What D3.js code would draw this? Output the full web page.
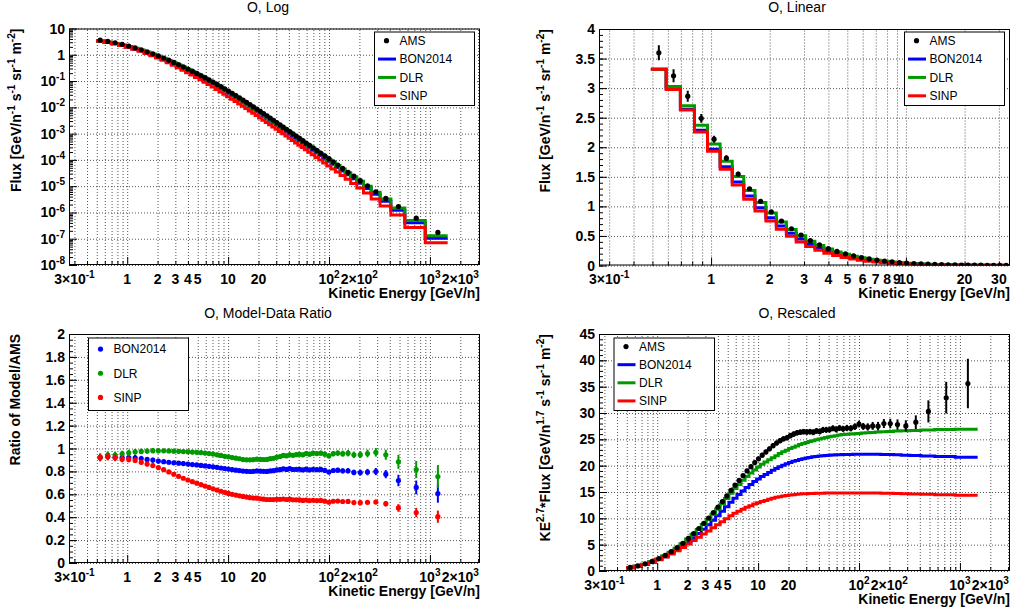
<!DOCTYPE html>
<html>
<head>
<meta charset="utf-8">
<script src="https://cdn.jsdelivr.net/npm/d3@7"></script>
<style>
body { margin: 0; background: #fff; }
text { font-family: "Liberation Sans", Arial, Helvetica, sans-serif; }
</style>
</head>
<body>
<svg width="1013" height="611"></svg>
<script>
// bin edges, kinetic energy per nucleon [GeV/n]
var ekEdges = [0.491, 0.588, 0.696, 0.822, 0.959, 1.113, 1.284, 1.471, 1.680, 1.911,
   2.162, 2.435, 2.734, 3.059, 3.410, 3.791, 4.204, 4.647, 5.140, 5.635,
   6.180, 6.775, 7.421, 8.117, 8.863, 9.660, 10.51, 11.45, 12.45, 13.50,
   14.65, 15.84, 17.14, 18.54, 20.04, 21.64, 23.34, 25.19, 27.13, 29.23,
   31.48, 33.93, 36.53, 39.33, 42.33, 45.58, 49.08, 53.08, 57.08, 61.58,
   66.58, 72.57, 79.07, 86.57, 95.07, 104.6, 115.6, 128.6, 144.6, 164.1,
   188.6, 219.6, 261.6, 320.6, 410.1, 564.1, 899.1, 1499];

var amsScaled = [0.68, 0.97, 1.36, 1.82, 2.35, 2.96, 3.67, 4.43, 5.27, 6.18,
   7.12, 8.07, 9.06, 10.06, 11.09, 12.12, 13.18, 14.25, 15.3, 16.3,
   17.2, 18.1, 19.0, 19.8, 20.6, 21.3, 22.0, 22.6, 23.2, 23.8,
   24.3, 24.75, 25.1, 25.3, 25.7, 26.0, 26.25, 26.35, 26.45, 26.4,
   26.45, 26.35, 26.6, 26.5, 26.8, 26.8, 26.85, 27.1, 26.9, 27.15,
   27.0, 27.15, 27.1, 27.4, 27.9, 27.45, 27.35, 27.55, 27.5, 28.0,
   28.0, 27.8, 27.55, 28.25, 30.3, 32.9, 35.6];
var amsScaledErr = [0.024, 0.033, 0.044, 0.055, 0.066, 0.077, 0.092, 0.106, 0.121, 0.136,
   0.142, 0.161, 0.181, 0.201, 0.222, 0.242, 0.264, 0.285, 0.306, 0.326,
   0.344, 0.362, 0.38, 0.396, 0.412, 0.426, 0.44, 0.452, 0.464, 0.476,
   0.486, 0.495, 0.503, 0.51, 0.516, 0.521, 0.526, 0.529, 0.53, 0.532,
   0.534, 0.56, 0.56, 0.57, 0.57, 0.57, 0.57, 0.57, 0.58, 0.58,
   0.58, 0.6, 0.6, 0.61, 0.64, 0.66, 0.69, 0.75, 0.81, 0.85,
   0.9, 0.98, 1.07, 1.3, 2.1, 3.0, 4.7];
var bonScaled = [0.627, 0.905, 1.256, 1.674, 2.163, 2.721, 3.350, 4.006, 4.736, 5.500,
   6.301, 7.102, 7.928, 8.772, 9.626, 10.47, 11.33, 12.20, 13.04, 13.82,
   14.52, 15.20, 15.87, 16.43, 17.00, 17.47, 17.93, 18.33, 18.72, 19.11,
   19.45, 19.78, 20.08, 20.35, 20.6, 20.82, 21.0, 21.18, 21.33, 21.46,
   21.57, 21.67, 21.75, 21.82, 21.88, 21.93, 21.98, 22.02, 22.05, 22.08,
   22.1, 22.12, 22.14, 22.15, 22.16, 22.17, 22.17, 22.17, 22.16, 22.14,
   22.11, 22.07, 22.0, 21.92, 21.83, 21.72, 21.6];
var dlrScaled = [0.627, 0.915, 1.283, 1.733, 2.262, 2.875, 3.577, 4.329, 5.169, 6.056,
   6.978, 7.901, 8.852, 9.809, 10.79, 11.77, 12.77, 13.78, 14.75, 15.65,
   16.44, 17.23, 17.95, 18.6, 19.2, 19.75, 20.25, 20.7, 21.12, 21.5,
   21.9, 22.3, 22.65, 22.95, 23.25, 23.5, 23.75, 24.0, 24.2, 24.4,
   24.6, 24.75, 24.9, 25.05, 25.2, 25.35, 25.5, 25.6, 25.7, 25.8,
   25.9, 25.95, 26.0, 26.05, 26.1, 26.2, 26.25, 26.3, 26.38, 26.45,
   26.5, 26.58, 26.65, 26.7, 26.78, 26.85, 26.9];
var sinpScaled = [0.627, 0.900, 1.249, 1.651, 2.126, 2.653, 3.229, 3.828, 4.483, 5.148,
   5.803, 6.416, 7.022, 7.615, 8.207, 8.787, 9.358, 9.932, 10.47, 10.95,
   11.35, 11.73, 12.10, 12.41, 12.71, 12.95, 13.20, 13.40, 13.62, 13.83,
   14.0, 14.12, 14.23, 14.33, 14.42, 14.5, 14.56, 14.61, 14.65, 14.68,
   14.71, 14.73, 14.75, 14.77, 14.78, 14.79, 14.8, 14.8, 14.8, 14.8,
   14.8, 14.8, 14.8, 14.8, 14.8, 14.8, 14.8, 14.8, 14.79, 14.77,
   14.75, 14.72, 14.68, 14.63, 14.57, 14.5, 14.4];

var modelNames = ["BON2014", "DLR", "SINP"];
var modelColors = ["#0000ff", "#009a00", "#ff0000"];
var rescalePower = 2.7;

var xLogTickVals = [0.3, 1, 2, 3, 4, 5, 10, 20, 100, 200, 1000, 2000];
var xLogTickText = ["3×10^{-1}", "1", "2", "3", "4", "5", "10", "20", "10^{2}", "2×10^{2}", "10^{3}", "2×10^{3}"];
var xLinTickVals = [0.3, 1, 2, 3, 4, 5, 6, 7, 8, 9, 10, 20, 30];
var xLinTickText = ["3×10^{-1}", "1", "2", "3", "4", "5", "6", "7", "8", "9", "10", "20", "30"];
var yLogTickVals = [10, 1, 1e-1, 1e-2, 1e-3, 1e-4, 1e-5, 1e-6, 1e-7, 1e-8];
var yLogTickText = ["10", "1", "10^{-1}", "10^{-2}", "10^{-3}", "10^{-4}", "10^{-5}", "10^{-6}", "10^{-7}", "10^{-8}"];

var svg = d3.select("svg");

// derived per-bin quantities
var nBins = ekEdges.length - 1;
var bins = d3.range(nBins).map(function(i) {
   var lo = ekEdges[i], hi = ekEdges[i + 1], c = (lo + hi) / 2;
   var k = Math.pow(c, rescalePower);
   var models = [bonScaled[i], dlrScaled[i], sinpScaled[i]];
   return {
      lo: lo, hi: hi, c: c,
      ams: amsScaled[i] / k, amsErr: amsScaledErr[i] / k,
      amsS: amsScaled[i], amsSErr: amsScaledErr[i],
      modS: models,
      mod: models.map(function(m) { return m / k; }),
      ratio: models.map(function(m) { return m / amsScaled[i]; }),
      ratioErr: models.map(function(m) { return m / amsScaled[i] * amsScaledErr[i] / amsScaled[i]; })
   };
});

// superscripts written as ^{..}
function richText(sel, str, fs) {
   var parts = str.split(/(\^\{[^}]*\})/);
   var raised = false;
   parts.forEach(function(p) {
      if (!p) return;
      if (p.charAt(0) === "^") {
         sel.append("tspan").attr("dy", -0.42 * fs).attr("font-size", fs * 0.72).text(p.slice(2, -1));
         raised = true;
      } else {
         var t = sel.append("tspan").text(p);
         if (raised) { t.attr("dy", 0.42 * fs); raised = false; }
      }
   });
}

var panels = [
   {title: "O, Log", cx: 268, ty: 11.5, x0: 69, x1: 480, y0: 28.5, y1: 265,
    xd: [0.265, 3135], ylog: true, yd: [1e-8, 10], ytx: 20.5,
    ytitle: "Flux [GeV/n^{-1} s^{-1} sr^{-1} m^{-2}]", kind: "flux",
    leg: {x: 374, y: 31.5, w: 100, h: 73.5}},
   {title: "O, Linear", cx: 797, ty: 11.5, x0: 599, x1: 1010, y0: 29, y1: 265.5,
    xd: [0.266, 34.2], yd: [0, 4], ytx: 550, lin: true,
    ytitle: "Flux [GeV/n^{-1} s^{-1} sr^{-1} m^{-2}]", kind: "flux",
    leg: {x: 904, y: 31.5, w: 100, h: 73.5}},
   {title: "O, Model-Data Ratio", cx: 268, ty: 318, x0: 69, x1: 480, y0: 334, y1: 563,
    xd: [0.265, 3135], yd: [0, 2], ytx: 20,
    ytitle: "Ratio of Model/AMS", kind: "ratio",
    leg: {x: 88, y: 337.5, w: 100, h: 72.5}},
   {title: "O, Rescaled", cx: 797, ty: 318, x0: 599, x1: 1010, y0: 334, y1: 571,
    xd: [0.265, 3135], yd: [0, 45], ytx: 550,
    ytitle: "KE^{2.7}*Flux [GeV/n^{1.7} s^{-1} sr^{-1} m^{-2}]", kind: "scaled",
    leg: {x: 613.5, y: 337.5, w: 100.5, h: 72.5}}
];

panels.forEach(function(p, pi) {
   var x = d3.scaleLog().domain(p.xd).range([p.x0, p.x1]);
   var y = (p.ylog ? d3.scaleLog() : d3.scaleLinear()).domain(p.yd).range([p.y1, p.y0]);
   var g = svg.append("g");
   var ph = p.y1 - p.y0;

   g.append("rect").attr("x", p.x0).attr("y", p.y0).attr("width", p.x1 - p.x0).attr("height", ph)
      .attr("fill", "#fff");

   // grid
   var xGrid = x.ticks();
   var yGrid = p.ylog ? yLogTickVals : y.ticks(10);
   g.append("g").attr("transform", "translate(0," + p.y1 + ")")
      .call(d3.axisBottom(x).tickValues(xGrid).tickSize(-ph).tickFormat(""))
      .call(function(s) { s.select(".domain").remove(); })
      .selectAll("line").attr("stroke", "#555").attr("stroke-dasharray", "1,2");
   g.append("g").attr("transform", "translate(" + p.x0 + ",0)")
      .call(d3.axisLeft(y).tickValues(yGrid).tickSize(-(p.x1 - p.x0)).tickFormat(""))
      .call(function(s) { s.select(".domain").remove(); })
      .selectAll("line").attr("stroke", "#555").attr("stroke-dasharray", "1,2");

   // contents
   var clipId = "clip" + pi;
   svg.append("clipPath").attr("id", clipId).append("rect")
      .attr("x", p.x0).attr("y", p.y0).attr("width", p.x1 - p.x0).attr("height", ph);
   var plot = g.append("g").attr("clip-path", "url(#" + clipId + ")");

   if (p.kind === "flux" || p.kind === "scaled") {
      var key = p.kind === "flux" ? "mod" : "modS";
      var line = d3.line().curve(d3.curveStepAfter)
         .x(function(d) { return x(d[0]); }).y(function(d) { return y(d[1]); });
      modelNames.forEach(function(name, m) {
         var pts = bins.map(function(b) { return [b.lo, b[key][m]]; });
         pts.push([bins[nBins - 1].hi, bins[nBins - 1][key][m]]);
         plot.append("path").attr("d", line(pts)).attr("fill", "none")
            .attr("stroke", modelColors[m]).attr("stroke-width", 3);
      });
      var v = p.kind === "flux" ? "ams" : "amsS", ve = p.kind === "flux" ? "amsErr" : "amsSErr";
      plot.selectAll(".err").data(bins).enter().append("line")
         .attr("x1", function(d) { return x(d.c); }).attr("x2", function(d) { return x(d.c); })
         .attr("y1", function(d) { return y(d[v] - d[ve]); })
         .attr("y2", function(d) { return y(d[v] + d[ve]); })
         .attr("stroke", "#000").attr("stroke-width", 2);
      plot.selectAll(".pt").data(bins).enter().append("circle")
         .attr("cx", function(d) { return x(d.c); }).attr("cy", function(d) { return y(d[v]); })
         .attr("r", 2.6).attr("fill", "#000");
   } else {
      modelNames.forEach(function(name, m) {
         plot.selectAll(".err" + m).data(bins).enter().append("line")
            .attr("x1", function(d) { return x(d.c); }).attr("x2", function(d) { return x(d.c); })
            .attr("y1", function(d) { return y(d.ratio[m] - d.ratioErr[m]); })
            .attr("y2", function(d) { return y(d.ratio[m] + d.ratioErr[m]); })
            .attr("stroke", modelColors[m]).attr("stroke-width", 2);
         plot.selectAll(".pt" + m).data(bins).enter().append("circle")
            .attr("cx", function(d) { return x(d.c); }).attr("cy", function(d) { return y(d.ratio[m]); })
            .attr("r", 2.6).attr("fill", modelColors[m]);
      });
   }

   // frame
   g.append("rect").attr("x", p.x0 + 0.5).attr("y", p.y0 + 0.5)
      .attr("width", p.x1 - p.x0 - 1).attr("height", ph - 1)
      .attr("fill", "none").attr("stroke", "#000").attr("stroke-width", 1);

   // ticks (inside the frame)
   var xt = x.ticks();
   var isDecade = function(t) { return Math.abs(Math.log10(t) - Math.round(Math.log10(t))) < 1e-6; };
   g.append("g").attr("transform", "translate(0," + p.y1 + ")")
      .call(d3.axisBottom(x).tickValues(xt.filter(isDecade)).tickSize(-8).tickFormat(""))
      .call(function(s) { s.select(".domain").remove(); });
   g.append("g").attr("transform", "translate(0," + p.y1 + ")")
      .call(d3.axisBottom(x).tickValues(xt.filter(function(t) { return !isDecade(t); })).tickSize(-4).tickFormat(""))
      .call(function(s) { s.select(".domain").remove(); });
   var yMajor, yMinor;
   if (p.ylog) {
      yMajor = yLogTickVals;
      yMinor = y.ticks().filter(function(t) { return !isDecade(t); });
   } else {
      yMajor = y.ticks(10);
      yMinor = y.ticks(50);
   }
   g.append("g").attr("transform", "translate(" + p.x0 + ",0)")
      .call(d3.axisLeft(y).tickValues(yMajor).tickSize(-8).tickFormat(""))
      .call(function(s) { s.select(".domain").remove(); });
   g.append("g").attr("transform", "translate(" + p.x0 + ",0)")
      .call(d3.axisLeft(y).tickValues(yMinor).tickSize(-4).tickFormat(""))
      .call(function(s) { s.select(".domain").remove(); });

   // tick labels
   var xv = p.lin ? xLinTickVals : xLogTickVals, xs = p.lin ? xLinTickText : xLogTickText;
   xv.forEach(function(t, i) {
      var tx = g.append("text").attr("x", x(t)).attr("y", p.y1 + 18.5)
         .attr("text-anchor", "middle").attr("font-size", 14).attr("font-weight", "bold");
      richText(tx, xs[i], 14);
   });
   yMajor.forEach(function(t, i) {
      var ty = g.append("text").attr("x", p.x0 - 4).attr("y", y(t) + 5)
         .attr("text-anchor", "end").attr("font-size", 14).attr("font-weight", "bold");
      richText(ty, p.ylog ? yLogTickText[i] : d3.format("~g")(t), 14);
   });

   // titles
   g.append("text").attr("x", p.cx).attr("y", p.ty).attr("text-anchor", "middle")
      .attr("font-size", 14).text(p.title);
   g.append("text").attr("x", p.x1).attr("y", p.y1 + 32.5).attr("text-anchor", "end")
      .attr("font-size", 14).attr("font-weight", "bold").text("Kinetic Energy [GeV/n]");
   var yt = g.append("text").attr("transform", "translate(" + p.ytx + "," + p.y0 + ") rotate(-90)")
      .attr("text-anchor", "end").attr("font-size", 14).attr("font-weight", "bold");
   richText(yt, p.ytitle, 14);

   // legend
   var L = p.leg;
   var lg = g.append("g");
   lg.append("rect").attr("x", L.x + 0.5).attr("y", L.y + 0.5).attr("width", L.w).attr("height", L.h)
      .attr("fill", "#fff").attr("stroke", "#000").attr("stroke-width", 1);
   var entries = [];
   if (p.kind !== "ratio") entries.push({name: "AMS", color: "#000", dot: true});
   modelNames.forEach(function(n, m) {
      entries.push({name: n, color: modelColors[m], dot: p.kind === "ratio"});
   });
   var rowH = L.h / entries.length;
   entries.forEach(function(e, i) {
      var cy = L.y + rowH * (i + 0.5) + (p.kind === "ratio" ? -0.5 : 0);
      if (e.dot) {
         lg.append("circle").attr("cx", L.x + 12.5).attr("cy", cy).attr("r", 2.6).attr("fill", e.color);
      } else {
         lg.append("line").attr("x1", L.x + 4).attr("x2", L.x + 22).attr("y1", cy).attr("y2", cy)
            .attr("stroke", e.color).attr("stroke-width", 3);
      }
      lg.append("text").attr("x", L.x + 25.5).attr("y", cy + 4.3).attr("font-size", 12).text(e.name);
   });
});
</script>
</body>
</html>
